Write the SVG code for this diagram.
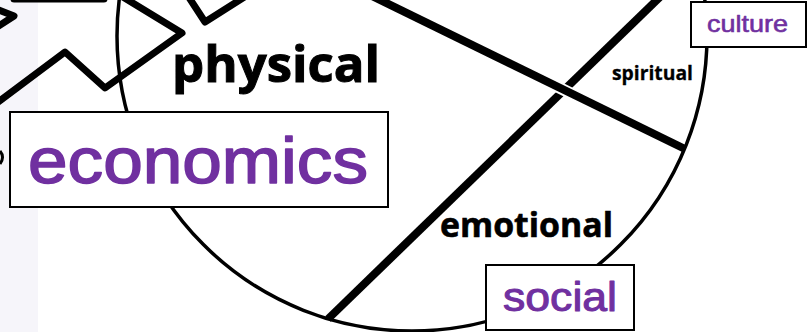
<svg xmlns="http://www.w3.org/2000/svg" width="808" height="332" viewBox="0 0 808 332">
<style>
.bg{fill:#ffffff}
.strip{fill:#f6f5fa}
.ring{fill:none;stroke:#000;stroke-width:3.5}
.thick{fill:none;stroke:#000;stroke-width:8;stroke-linecap:butt}
.zig{fill:none;stroke:#000;stroke-width:7;stroke-linejoin:round;stroke-linecap:round}
.halo{fill:none;stroke:#fff;stroke-width:12}
.box{fill:#fff;stroke:#000;stroke-width:2}
.lbl{font-family:"Open Sans","DejaVu Sans",sans-serif;font-weight:700;fill:#000;stroke:#000}
.tag{font-family:"Liberation Sans",Arial,sans-serif;fill:#7030a0;stroke:#7030a0;stroke-linejoin:round}
</style>
<rect class="bg" x="0" y="0" width="808" height="332"/>
<rect class="strip" x="0" y="0" width="38" height="332"/>
<g id="connectors">
  <circle class="ring" cx="412" cy="36" r="295"/>
  <path class="zig" d="M -6,105 L 65,52 L 105,88 L 182,33 L 118,-6"/>
  <path class="zig" d="M 188,-4 L 205,22 L 246,-4"/>
  <path class="zig" d="M 14,-1 L 104,-1"/>
  <path class="zig" d="M -6,8 L 14,16 L -6,29"/>
  <path d="M 0,151 Q 5,157 0,164" fill="none" stroke="#000" stroke-width="3"/>
  <path class="thick" d="M 662,-5 L 328,319"/>
  <path class="halo" d="M 542,79 L 586,101"/>
  <path class="thick" d="M 372,-4 L 685,149"/>
</g>
<g id="physical"><text class="lbl" x="172" y="82" font-size="51" stroke-width="1" textLength="208" lengthAdjust="spacingAndGlyphs">physical</text></g>
<g id="spiritual"><text class="lbl" x="612" y="80" font-size="19.5" stroke-width="0.3" textLength="81" lengthAdjust="spacingAndGlyphs">spiritual</text></g>
<g id="emotional"><text class="lbl" x="440" y="237" font-size="34" stroke-width="0.6" textLength="173" lengthAdjust="spacingAndGlyphs">emotional</text></g>
<g id="economics">
  <rect class="box" x="10" y="112" width="378" height="95"/>
  <text class="tag" x="28" y="183" font-size="64" stroke-width="1.5" textLength="340" lengthAdjust="spacingAndGlyphs">economics</text>
</g>
<g id="culture">
  <rect class="box" x="691" y="2" width="115" height="45"/>
  <text class="tag" x="707" y="32" font-size="24" stroke-width="0.6" textLength="81" lengthAdjust="spacingAndGlyphs">culture</text>
</g>
<g id="social">
  <rect class="box" x="486" y="265" width="148" height="65"/>
  <text class="tag" x="503" y="311" font-size="40" stroke-width="1" textLength="114" lengthAdjust="spacingAndGlyphs">social</text>
</g>
</svg>
